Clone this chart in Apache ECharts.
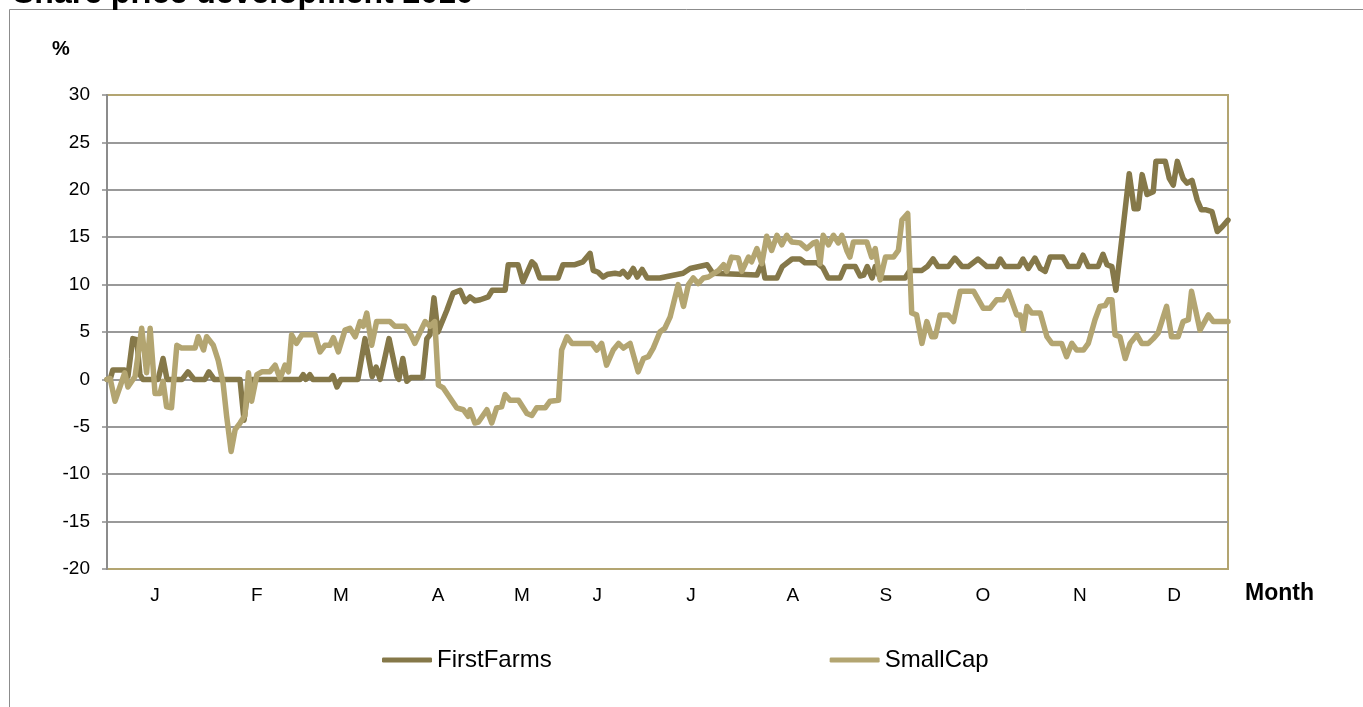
<!DOCTYPE html>
<html>
<head>
<meta charset="utf-8">
<script src="https://cdn.jsdelivr.net/npm/echarts@6/dist/echarts.min.js"></script>
<style>
html,body{margin:0;padding:0;background:#fff;}
#chart{width:1363px;height:707px;}
</style>
</head>
<body>
<div id="chart"></div>
<script>
// Trading-day index (0..252) and % change
const firstFarmsDays = [0,0.7,1.3,4.0,4.7,5.8,6.7,7.4,8.1,11.5,12.6,13.5,16.9,18.2,19.6,22.0,22.9,24.1,29.9,30.8,31.7,32.6,43.4,44.1,44.7,45.6,46.3,50.1,50.8,51.7,52.6,56.4,58.0,59.6,60.5,61.4,63.4,65.2,65.6,66.5,67.4,68.3,71.0,71.9,72.6,73.5,74.4,76.4,77.8,79.4,80.5,81.6,82.7,83.9,85.7,86.6,89.5,90.2,92.4,93.5,95.5,96.2,97.3,101.4,102.5,105.2,107.0,108.6,109.3,110.4,111.5,112.6,114.2,115.3,116.0,117.1,118.3,119.2,120.3,121.4,124.3,129.5,131.1,134.9,136.2,146.1,147.3,147.9,150.6,151.8,154.0,155.8,156.9,159.6,160.9,162.1,164.8,165.9,168.2,169.3,170.1,170.9,172.0,172.7,173.8,179.4,180.5,183.2,184.4,185.7,186.8,189.1,190.6,192.2,193.6,195.8,197.8,200.0,200.8,201.9,205.0,205.9,207.1,208.6,209.8,210.9,212.0,214.9,216.1,218.3,219.4,220.6,222.8,223.9,224.8,225.9,226.8,228.2,229.8,230.9,231.8,232.7,233.8,235.2,235.8,237.9,238.8,239.7,240.6,241.9,242.8,243.9,245.1,246.0,246.9,248.4,249.6,250.7,252.0];
const firstFarmsValues = [0,0,1.0,1.0,0.3,4.3,4.2,0.5,0,0,2.2,0,0,0.8,0,0,0.8,0,0,-4.3,-1,0,0,0.5,0,0.5,0,0,0.4,-0.8,0,0,4.3,0.3,1.3,0,4.3,0.3,0,2.2,-0.2,0.2,0.2,4.3,4.7,8.6,5.0,7.3,9.1,9.4,8.2,8.7,8.3,8.4,8.7,9.4,9.4,12.1,12.1,10.3,12.4,12.1,10.7,10.7,12.1,12.1,12.4,13.3,11.5,11.3,10.8,11.1,11.2,11.1,11.4,10.8,11.7,10.8,11.6,10.7,10.7,11.2,11.7,12.1,11.2,11.0,12.3,10.7,10.7,11.9,12.7,12.7,12.3,12.3,11.8,10.7,10.7,11.9,11.9,10.9,11.0,11.9,10.7,11.9,10.7,10.7,11.5,11.5,11.9,12.7,11.9,11.9,12.8,11.9,11.9,12.7,11.9,11.9,12.7,11.9,11.9,12.7,11.7,12.8,11.7,11.4,12.9,12.9,11.9,11.9,13.1,11.9,11.9,13.2,12.1,11.9,9.4,15.1,21.7,18.0,18.0,21.6,19.5,19.8,23.0,23.0,21.2,20.5,23.0,21.2,20.7,21.0,18.9,17.9,17.9,17.7,15.6,16.1,16.8];

const smallCapDays = [0,0.7,1.8,2.9,4.0,4.7,6.3,7.8,8.9,9.7,10.8,11.9,12.6,13.4,14.5,15.7,16.8,19.8,20.5,21.7,22.4,23.9,25.0,26.1,26.9,27.9,28.8,29.9,31.0,31.8,32.5,33.7,34.8,36.6,37.8,38.9,40.0,40.8,41.5,42.6,43.8,46.8,47.9,49.0,50.1,50.9,52.0,53.5,54.6,55.8,56.9,57.6,58.4,59.5,60.6,63.6,64.7,67.0,68.1,69.2,70.4,71.5,72.6,73.7,74.5,75.6,78.6,80.1,81.2,81.6,82.7,83.5,85.4,86.5,87.6,88.7,89.5,90.6,92.5,94.4,95.5,96.6,98.5,99.6,101.5,102.2,103.4,104.5,109.0,110.1,111.2,112.3,113.8,115.0,116.1,117.6,119.4,120.6,121.7,122.8,124.3,125.4,126.6,128.4,129.6,130.7,131.8,132.9,134.1,135.2,137.5,138.6,139.3,140.4,141.9,142.7,144.2,144.9,146.1,147.2,148.3,149.4,150.6,151.7,152.8,153.9,155.8,157.3,158.8,159.5,160.3,161.0,162.2,163.3,164.4,165.2,166.3,167.0,167.8,170.8,171.9,172.7,173.8,175.0,176.8,177.9,178.7,180.0,180.9,182.0,183.2,184.3,185.4,186.2,187.3,189.1,190.3,191.8,194.8,197.0,198.5,200.0,201.5,202.6,204.5,205.3,206.0,206.8,207.9,209.8,211.3,212.4,214.6,215.7,216.9,218.0,219.5,220.6,222.1,223.2,224.4,225.1,225.9,226.6,227.7,228.9,230.0,231.5,232.6,234.1,235.2,236.3,238.2,239.3,240.8,241.9,243.1,243.8,245.7,247.6,248.7,252.0];
const smallCapValues = [0,0.1,-2.3,-0.8,0.7,-0.8,0.3,5.4,0.7,5.4,-1.5,-1.5,-0.2,-2.9,-3.0,3.6,3.3,3.3,4.5,3.1,4.5,3.6,2.0,-0.4,-3.9,-7.6,-5.3,-4.6,-3.8,0.7,-2.3,0.5,0.8,0.8,1.5,0.1,1.5,0.8,4.7,3.8,4.7,4.7,2.9,3.6,3.6,4.4,2.9,5.2,5.4,4.5,6.1,5.6,7.0,3.6,6.1,6.1,5.6,5.6,4.9,3.8,5.0,6.1,5.6,6.1,-0.6,-0.9,-3.0,-3.2,-3.9,-3.2,-4.6,-4.5,-3.2,-4.6,-3.0,-2.9,-1.6,-2.2,-2.2,-3.6,-3.8,-3.0,-3.0,-2.3,-2.2,3.1,4.5,3.8,3.8,3.1,3.8,1.5,3.1,3.8,3.3,3.8,0.8,2.2,2.4,3.3,5.0,5.4,6.6,10.0,7.7,10.0,10.7,10.1,10.7,10.8,11.5,12.1,11.4,12.9,12.8,11.4,12.9,12.4,13.8,12.2,15.1,13.6,15.2,14.2,15.2,14.5,14.4,13.8,14.4,14.5,12.2,15.2,14.2,15.2,14.4,15.2,13.6,12.9,14.5,14.5,12.9,13.8,10.5,12.9,12.9,13.6,16.8,17.5,7.0,6.8,3.8,6.1,4.5,4.5,6.8,6.8,6.1,9.3,9.3,7.5,7.5,8.4,8.4,9.3,6.8,6.8,5.2,7.7,7.0,7.0,4.5,3.8,3.8,2.4,3.8,3.1,3.1,3.8,6.3,7.7,7.8,8.4,8.4,4.7,4.5,2.2,3.8,4.7,3.8,3.8,4.3,4.9,7.7,4.5,4.5,6.1,6.3,9.3,5.2,6.8,6.1,6.1];

const monthLabels = ['J','F','M','A','M','J','J','A','S','O','N','D'];
const monthPos = [10.8,33.7,52.6,74.4,93.3,110.2,131.3,154.2,175.1,196.9,218.7,239.9];
const seriesNames = ['FirstFarms','SmallCap'];

function pairs(xs, ys){ return xs.map((x,i)=>[x, ys[i]]); }

const FONT = "'Liberation Sans', Arial, sans-serif";
const chart = echarts.init(document.getElementById('chart'), null, {renderer:'canvas'});
const gridLineColors = ['rgba(0,0,0,0)','#999','#999','#999','#999','#999','#999','#999','#999','#999','rgba(0,0,0,0)'];

chart.setOption({
  animation:false,
  backgroundColor:'#fff',
  title:{
    text:'Share price development 2010',
    left:13, top:-22, padding:0,
    textStyle:{fontFamily:FONT, fontWeight:'bold', fontSize:32, color:'#000'}
  },
  graphic:[{
    type:'rect', left:7, top:7, silent:true,
    shape:{x:0,y:0,width:1420,height:800},
    style:{fill:'none', stroke:'#8c8c8c', lineWidth:1}
  }],
  grid:{left:107, right:135, top:95, bottom:138, show:true, borderColor:'#B3A571', borderWidth:2, backgroundColor:'transparent'},
  legend:{
    data:seriesNames, left:382, top:648, padding:0, itemWidth:50, itemHeight:5, itemGap:278,
    icon:'roundRect',
    textStyle:{fontFamily:FONT, fontSize:24, color:'#000'}
  },
  xAxis:{
    type:'value', min:0, max:252,
    name:'Month', nameLocation:'end', nameGap:17,
    nameTextStyle:{fontFamily:FONT, fontWeight:'bold', fontSize:23, color:'#000', verticalAlign:'top', align:'left', padding:[13,0,0,0]},
    axisLine:{show:false, onZero:false}, axisTick:{show:false}, splitLine:{show:false},
    axisLabel:{
      customValues:monthPos, margin:17,
      fontFamily:FONT, fontSize:19, color:'#000',
      formatter:function(v){ const i = monthPos.indexOf(v); return i>=0 ? monthLabels[i] : ''; }
    }
  },
  yAxis:{
    type:'value', min:-20, max:30, interval:5,
    name:'%', nameLocation:'end', nameGap:36,
    nameTextStyle:{fontFamily:FONT, fontWeight:'bold', fontSize:20, color:'#000', padding:[0,92,0,0]},
    axisLine:{show:true, onZero:false, lineStyle:{color:'#8c8c8c', width:2}},
    axisTick:{show:true, inside:false, length:5, lineStyle:{color:'#8c8c8c', width:1.5}},
    axisLabel:{margin:17, fontFamily:FONT, fontSize:19, color:'#000'},
    splitLine:{show:true, lineStyle:{color:gridLineColors, width:2}}
  },
  series:[
    {name:seriesNames[0], type:'line', data:pairs(firstFarmsDays, firstFarmsValues), symbol:'none', showSymbol:false,
     lineStyle:{color:'#857849', width:5.5, cap:'round', join:'round'}, itemStyle:{color:'#857849'}, z:2},
    {name:seriesNames[1], type:'line', data:pairs(smallCapDays, smallCapValues), symbol:'none', showSymbol:false,
     lineStyle:{color:'#B3A571', width:5.5, cap:'round', join:'round'}, itemStyle:{color:'#B3A571'}, z:3}
  ]
});
</script>
</body>
</html>
